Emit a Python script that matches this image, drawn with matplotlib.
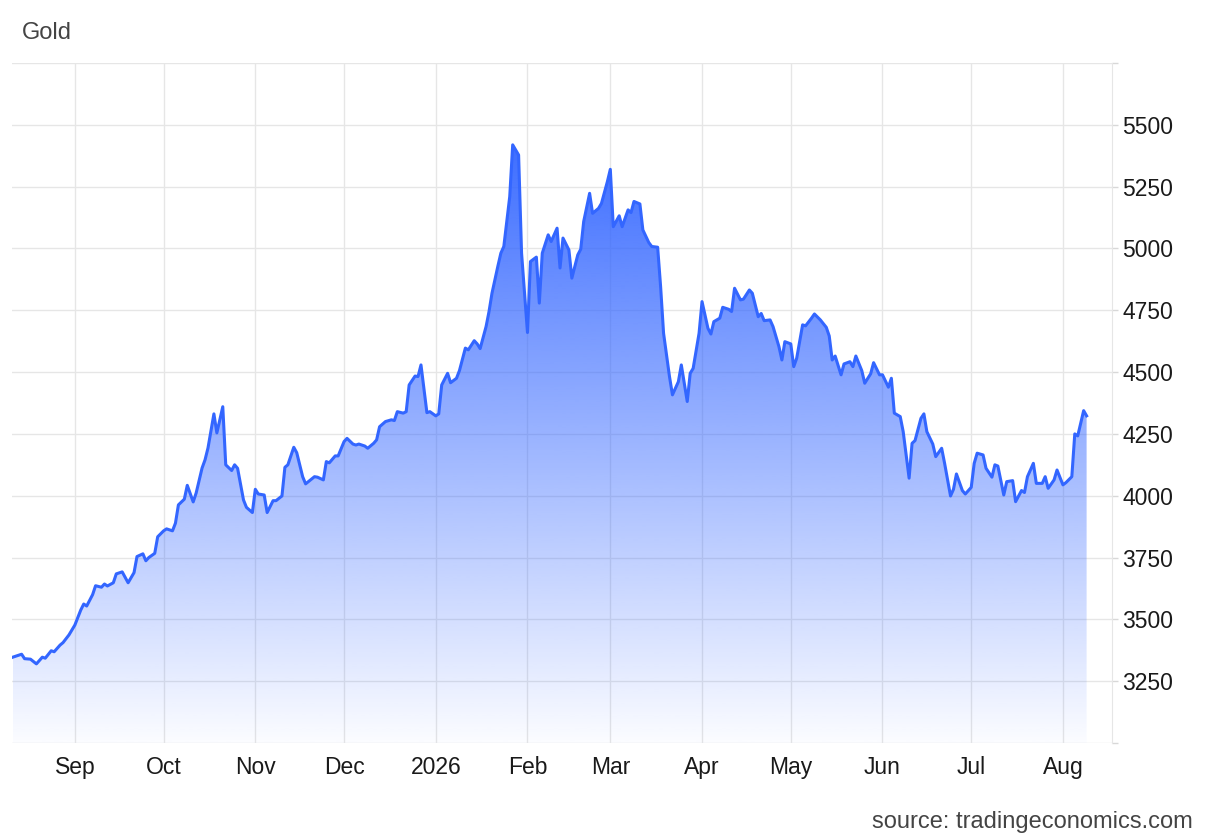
import numpy as np
import pandas as pd
import matplotlib
matplotlib.use('Agg')
import matplotlib.pyplot as plt
import matplotlib.dates as mdates
from matplotlib.ticker import FixedLocator, FuncFormatter

plt.rcParams['font.family'] = ['Liberation Sans', 'DejaVu Sans']

dates = [
    '2025-08-11', '2025-08-14', '2025-08-15', '2025-08-17', '2025-08-19', '2025-08-21', '2025-08-22',
    '2025-08-24', '2025-08-25', '2025-08-27', '2025-08-28', '2025-08-30',
    '2025-09-01', '2025-09-03', '2025-09-04', '2025-09-05', '2025-09-07', '2025-09-08', '2025-09-10',
    '2025-09-11', '2025-09-12', '2025-09-14', '2025-09-15', '2025-09-17', '2025-09-18', '2025-09-19',
    '2025-09-21', '2025-09-22', '2025-09-24', '2025-09-25', '2025-09-26', '2025-09-28', '2025-09-29',
    '2025-10-01', '2025-10-02', '2025-10-04', '2025-10-05', '2025-10-06', '2025-10-08', '2025-10-09',
    '2025-10-11', '2025-10-12', '2025-10-14', '2025-10-15', '2025-10-16', '2025-10-18', '2025-10-19',
    '2025-10-21', '2025-10-22', '2025-10-24', '2025-10-25', '2025-10-26', '2025-10-28', '2025-10-29',
    '2025-10-31',
    '2025-11-01', '2025-11-02', '2025-11-04', '2025-11-05', '2025-11-07', '2025-11-08', '2025-11-10',
    '2025-11-11', '2025-11-12', '2025-11-14', '2025-11-15', '2025-11-17', '2025-11-18', '2025-11-20',
    '2025-11-21', '2025-11-22', '2025-11-24', '2025-11-25', '2025-11-26', '2025-11-28', '2025-11-29',
    '2025-12-01', '2025-12-02', '2025-12-04', '2025-12-05', '2025-12-06', '2025-12-08', '2025-12-09',
    '2025-12-11', '2025-12-12', '2025-12-13', '2025-12-15', '2025-12-17', '2025-12-18', '2025-12-19',
    '2025-12-21', '2025-12-22', '2025-12-23', '2025-12-25', '2025-12-26', '2025-12-27', '2025-12-29',
    '2025-12-30',
    '2026-01-01', '2026-01-02', '2026-01-03', '2026-01-05', '2026-01-06', '2026-01-08', '2026-01-09',
    '2026-01-11', '2026-01-12', '2026-01-14', '2026-01-15', '2026-01-16', '2026-01-18', '2026-01-19',
    '2026-01-20', '2026-01-22', '2026-01-23', '2026-01-24', '2026-01-26', '2026-01-27', '2026-01-29',
    '2026-01-30',
    '2026-02-01', '2026-02-02', '2026-02-04', '2026-02-05', '2026-02-06', '2026-02-08', '2026-02-09',
    '2026-02-11', '2026-02-12', '2026-02-13', '2026-02-15', '2026-02-16', '2026-02-18', '2026-02-19',
    '2026-02-20', '2026-02-22', '2026-02-23', '2026-02-25', '2026-02-26', '2026-02-28',
    '2026-03-01', '2026-03-02', '2026-03-04', '2026-03-05', '2026-03-07', '2026-03-08', '2026-03-09',
    '2026-03-11', '2026-03-12', '2026-03-14', '2026-03-15', '2026-03-17', '2026-03-18', '2026-03-19',
    '2026-03-21', '2026-03-22', '2026-03-24', '2026-03-25', '2026-03-27', '2026-03-28', '2026-03-29',
    '2026-03-31',
    '2026-04-01', '2026-04-03', '2026-04-04', '2026-04-05', '2026-04-07', '2026-04-08', '2026-04-10',
    '2026-04-11', '2026-04-12', '2026-04-14', '2026-04-15', '2026-04-17', '2026-04-18', '2026-04-20',
    '2026-04-21', '2026-04-22', '2026-04-24', '2026-04-25', '2026-04-27', '2026-04-28', '2026-04-29',
    '2026-05-01', '2026-05-02', '2026-05-03', '2026-05-05', '2026-05-06', '2026-05-08', '2026-05-09',
    '2026-05-11', '2026-05-13', '2026-05-14', '2026-05-15', '2026-05-16', '2026-05-18', '2026-05-19',
    '2026-05-21', '2026-05-22', '2026-05-23', '2026-05-25', '2026-05-26', '2026-05-28', '2026-05-29',
    '2026-05-31',
    '2026-06-01', '2026-06-03', '2026-06-04', '2026-06-05', '2026-06-07', '2026-06-08', '2026-06-10',
    '2026-06-11', '2026-06-12', '2026-06-14', '2026-06-15', '2026-06-16', '2026-06-18', '2026-06-19',
    '2026-06-21', '2026-06-22', '2026-06-24', '2026-06-25', '2026-06-26', '2026-06-28', '2026-06-29',
    '2026-07-01', '2026-07-02', '2026-07-03', '2026-07-05', '2026-07-06', '2026-07-08', '2026-07-09',
    '2026-07-10', '2026-07-12', '2026-07-13', '2026-07-15', '2026-07-16', '2026-07-18', '2026-07-19',
    '2026-07-20', '2026-07-22', '2026-07-23', '2026-07-25', '2026-07-26', '2026-07-27', '2026-07-29',
    '2026-07-30',
    '2026-08-01', '2026-08-02', '2026-08-04', '2026-08-05', '2026-08-06', '2026-08-08', '2026-08-09',
]

gold = [
    3347, 3359, 3341, 3339, 3320, 3347, 3343, 3373, 3369, 3396, 3406, 3437,
    3477, 3538, 3562, 3554, 3600, 3636, 3630, 3643, 3635, 3648, 3684, 3692, 3670, 3648,
    3689, 3754, 3765, 3737, 3750, 3767, 3834,
    3858, 3866, 3858, 3889, 3963, 3986, 4042, 3975, 4011, 4112, 4145, 4193, 4331,
    4254, 4360, 4125, 4102, 4125, 4111, 3983, 3953, 3932,
    4026, 4007, 4003, 3932, 3980, 3980, 3999, 4115, 4125, 4196, 4174, 4077, 4048, 4067,
    4077, 4075, 4064, 4138, 4133, 4161, 4161,
    4219, 4232, 4209, 4205, 4209, 4201, 4192, 4212, 4226, 4279, 4300, 4307, 4304, 4340,
    4334, 4340, 4448, 4484, 4482, 4529, 4336, 4340,
    4323, 4331, 4448, 4495, 4457, 4475, 4506, 4597, 4590, 4627, 4614, 4595, 4684, 4745,
    4819, 4929, 4981, 5008, 5210, 5419, 5378, 4981,
    4660, 4947, 4965, 4779, 4981, 5055, 5028, 5082, 4921, 5042, 4994, 4880, 4974, 4997,
    5109, 5223, 5142, 5162, 5182, 5270,
    5320, 5088, 5132, 5088, 5156, 5145, 5190, 5180, 5075, 5024, 5008, 5005, 4846, 4657,
    4482, 4408, 4461, 4529, 4381, 4495, 4515, 4657,
    4785, 4677, 4654, 4704, 4718, 4762, 4754, 4745, 4839, 4792, 4795, 4832, 4819, 4724,
    4737, 4708, 4711, 4684, 4603, 4549, 4623,
    4614, 4522, 4556, 4691, 4687, 4718, 4735, 4711, 4681, 4646, 4549, 4565, 4489, 4533,
    4542, 4522, 4565, 4506, 4455, 4493, 4538, 4489,
    4489, 4439, 4475, 4334, 4320, 4259, 4071, 4212, 4223, 4313, 4331, 4259, 4209, 4158,
    4192, 4131, 3999, 4026, 4088, 4021, 4007,
    4034, 4131, 4172, 4165, 4111, 4075, 4125, 4120, 4003, 4057, 4061, 3976, 4021, 4013,
    4077, 4131, 4050, 4050, 4077, 4030, 4064, 4104,
    4044, 4053, 4077, 4250, 4242, 4344, 4323,
]

y_ticks = [3000, 3250, 3500, 3750, 4000, 4250, 4500, 4750, 5000, 5250, 5500, 5750]

dates = pd.to_datetime(dates)
x = mdates.date2num(dates)

fig = plt.figure(figsize=(12.1, 8.39), dpi=100)
ax = fig.add_axes([12 / 1210, 1 - 743 / 839, 1100 / 1210, 680 / 839])

x0 = mdates.date2num(pd.Timestamp('2025-08-10 18:00'))
x1 = mdates.date2num(pd.Timestamp('2026-08-17 14:00'))
ax.set_xlim(x0, x1)
ax.set_ylim(3000, 5750)

# gradient area under the line
poly = ax.fill_between(x, gold, 3000, color='none', lw=0)
n = 256
grad = np.zeros((n, 1, 4))
grad[:, 0, 0] = 0.20
grad[:, 0, 1] = 0.40
grad[:, 0, 2] = 1.0
grad[:, 0, 3] = np.linspace(0.02, 0.95, n)
im = ax.imshow(grad, extent=[x[0], x[-1], 3000, max(gold)], aspect='auto',
               origin='lower', zorder=2, interpolation='bilinear')
im.set_clip_path(poly.get_paths()[0], transform=ax.transData)

ax.plot(x, gold, color='#3366ff', lw=2.2, zorder=3)

ax.yaxis.set_major_locator(FixedLocator(y_ticks))
ax.yaxis.set_major_formatter(FuncFormatter(
    lambda v, p: '' if v in (3000, 5750) else f'{int(v)}'))
ax.yaxis.tick_right()

ax.xaxis.set_major_locator(mdates.MonthLocator())
ax.xaxis.set_major_formatter(FuncFormatter(
    lambda v, p: str(mdates.num2date(v).year) if mdates.num2date(v).month == 1
    else mdates.num2date(v).strftime('%b')))

ax.tick_params(axis='both', labelsize=16.5, labelcolor='#1a1a1a')
ax.tick_params(axis='x', length=0, pad=9.5)
ax.tick_params(axis='y', length=4.5, width=1, color='#d8d8d8', pad=3)

ax.grid(True, color='#e6e6e6', lw=1)
ax.set_axisbelow(True)
for side in ['left', 'top', 'bottom']:
    ax.spines[side].set_visible(False)
ax.spines['right'].set_color('#e6e6e6')

fig.text(22 / 1210, 1 - 33 / 839, 'Gold', fontsize=17, color='#444444', va='center')
fig.text(1193 / 1210, 1 - 822 / 839, 'source: tradingeconomics.com', fontsize=17,
         color='#444444', ha='right', va='center')

fig.savefig('out.png', dpi=100)
